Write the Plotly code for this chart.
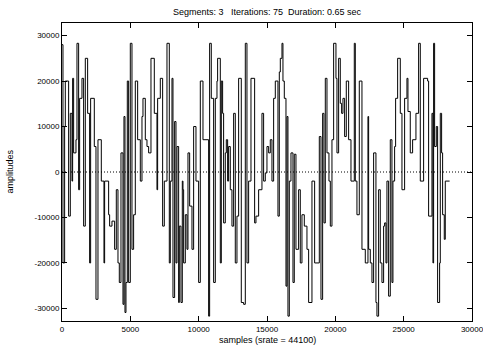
import plotly.graph_objects as go

# step start positions (samples) and amplitudes
step_start = [0, 71, 193, 242, 486, 608, 730, 778, 851, 1022, 1095, 1217, 1290, 1461, 1583, 1705,
              1876, 2022, 2095, 2364, 2486, 2632, 2876, 3071, 3120, 3412, 3486, 3656, 3851, 3973,
              4095, 4193, 4315, 4461, 4534, 4608, 4681, 4778, 4876, 4998, 5120, 5240, 5364, 5535,
              5730, 5852, 5925, 6096, 6218, 6339, 6510, 6754, 6949, 6998, 7193, 7364, 7486, 7681,
              7852, 7925, 8047, 8120, 8242, 8339, 8413, 8535, 8583, 8705, 8803, 8852, 8900, 9022,
              9144, 9218, 9340, 9510, 9632, 9803, 9998, 10120, 10315, 10729, 10802, 10924, 11095,
              11217, 11339, 11387, 11583, 11656, 11753, 11826, 11948, 12022, 12119, 12192, 12314,
              12436, 12558, 12680, 12802, 12924, 13119, 13290, 13412, 13534, 13656, 13827, 14095,
              14192, 14388, 14631, 14753, 14875, 14997, 15119, 15241, 15363, 15485, 15607, 15802,
              15900, 15973, 16095, 16168, 16266, 16388, 16461, 16534, 16632, 16754, 16900, 16997,
              17119, 17314, 17436, 17558, 17729, 17924, 18046, 18290, 18485, 18827, 18949, 19071,
              19168, 19266, 19388, 19534, 19632, 19753, 19875, 20046, 20119, 20241, 20363, 20461,
              20558, 20680, 20802, 20973, 21144, 21387, 21461, 21582, 21753, 21948, 22192, 22387,
              22436, 22558, 22680, 22801, 22972, 23045, 23167, 23289, 23411, 23533, 23606, 23704,
              23777, 23899, 24021, 24143, 24216, 24338, 24411, 24558, 24753, 24875, 25070, 25240,
              25314, 25484, 25655, 25899, 26094, 26216, 26460, 26753, 26826, 27070, 27143, 27192,
              27265, 27387, 27484, 27631, 27680, 27777, 27850, 27972, 28045, 28362]
amplitude = [28000, -20000, 10000, 20000, -9700, 12900, -2000, 20600, 4200, 7100, 28300, -3900,
             16200, 20600, -11900, 25000, 12900, -20000, 16200, 5600, -28000, 7100, -2000, -20000,
             -2000, -9400, -11900, -10800, -17000, -3900, -20000, -24300, 4200, -29100, 12200,
             -30900, -24300, 20000, -24300, 28300, -17000, -9400, 20000, 7100, -2000, 12200, 16200,
             7100, 5600, 4200, 25000, 12900, -3900, 16200, 20600, -11900, -2000, 28300, -20000,
             -2000, 20600, -27600, 11100, -20000, 5600, -28700, -11900, -28700, -2000, -3900,
             -20000, -9400, -17000, 4200, -7500, -17000, 10000, -2000, -24300, 20000, 7100,
             -31700, 28300, 16200, -24300, 16200, 20000, 25000, -20000, 20000, 12900, -11200, 4200,
             7100, -2000, 5600, -3900, -11900, 12900, -20000, -9700, 20600, -28700, -29100, 28300,
             -20000, -2000, 20600, -11200, -9700, -3900, 12900, -2000, -200, 5600, 4200, 7100,
             -2000, 16200, 20000, -9700, 22000, 25000, 28300, 20000, 16200, -25100, 12200, -31700,
             -2000, 4200, -24300, 3900, -17000, -3900, -20000, -9400, -11900, -17000, -28700,
             -2000, -20000, 7800, -28000, 12900, -11200, 20600, 4200, -2000, -11900, 7100, 28300,
             20600, 4200, 25000, 15100, 12900, 16200, 7800, 20000, 7100, -2000, 28300, -2000,
             -9400, 20000, -17000, -20000, 12200, -17000, -20000, -24300, 4200, -28700, -31700,
             -3900, -20000, -24300, -11900, -11200, -20000, -2000, -27300, 7100, -24300, -2000,
             5600, 16200, 25000, 12900, -3900, 16200, 20600, 13300, 4200, 7100, 12900, 28300,
             -2000, 20600, 20000, -9700, 12900, -20000, 28300, 5600, 10000, -28700, -20000, 12900,
             4200, -9400, -14800, -2000, -2000]

x_ticks = [0, 5000, 10000, 15000, 20000, 25000, 30000]
y_ticks = [-30000, -20000, -10000, 0, 10000, 20000, 30000]

title_text = "Segments: 3   Iterations: 75  Duration: 0.65 sec"
x_title = "samples (srate = 44100)"
y_title = "amplitudes"

font = "Liberation Sans, Arial, sans-serif"

fig = go.Figure()
fig.add_trace(go.Scatter(x=step_start, y=amplitude, mode="lines", line_shape="hv",
                         line=dict(color="black", width=1), hoverinfo="skip"))

fig.add_shape(type="line", xref="paper", x0=0, x1=1, yref="y", y0=0, y1=0,
              line=dict(color="black", width=1, dash="1px,2px"))

axis_common = dict(showgrid=False, zeroline=False, showline=True, linecolor="black",
                   linewidth=1, mirror="ticks", ticks="inside", ticklen=5, tickcolor="black",
                   ticklabeloverflow="allow", automargin=False,
                   tickfont=dict(family=font, size=8, color="black"))

fig.update_xaxes(range=[0, 30000], tickvals=x_ticks, ticktext=[str(v) for v in x_ticks],
                 **axis_common)
fig.update_yaxes(range=[-32768, 32767], tickvals=y_ticks, ticktext=[str(v) for v in y_ticks],
                 **axis_common)

fig.add_annotation(text=title_text, xref="paper", yref="paper", x=0.5, y=1.037,
                   showarrow=False, yanchor="middle", font=dict(family=font, size=9, color="black"))
fig.add_annotation(text=x_title, xref="paper", yref="paper", x=0.5, y=-0.065,
                   showarrow=False, yanchor="middle", font=dict(family=font, size=9, color="black"))
fig.add_annotation(text=y_title, xref="paper", yref="paper", x=-0.128, y=0.5, textangle=-90,
                   showarrow=False, xanchor="center", font=dict(family=font, size=9, color="black"))

fig.update_layout(width=483, height=345, margin=dict(l=62, r=11, t=23, b=24),
                  paper_bgcolor="white", plot_bgcolor="white", showlegend=False)

fig.write_html("out.html")
